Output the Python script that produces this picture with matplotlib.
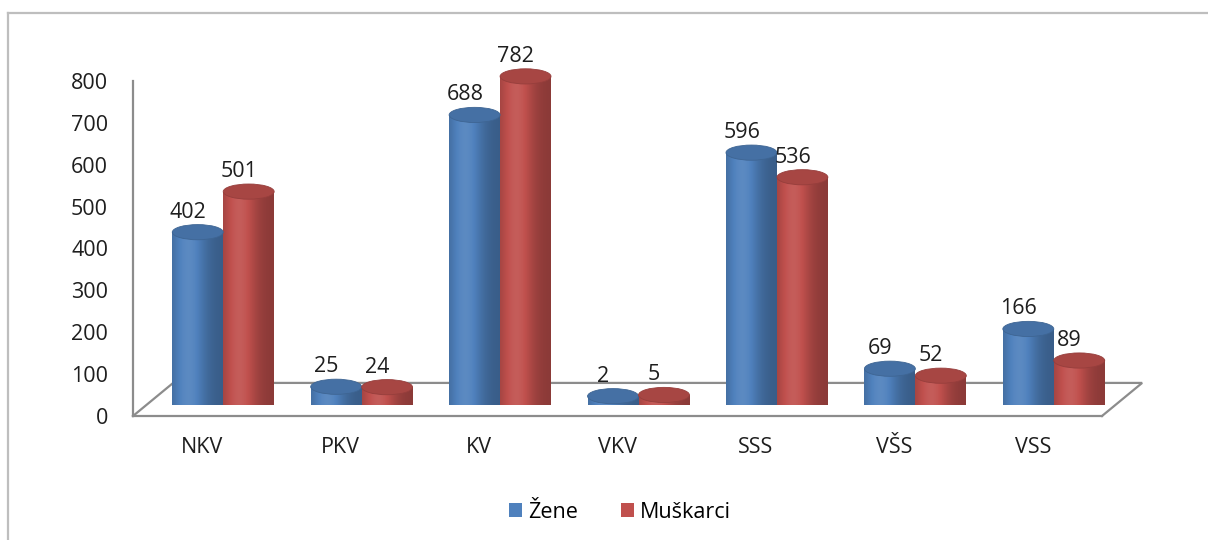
"""Zene / Muskarci po strucnoj spremi - 3D cylinder style bar chart"""

import numpy as np
import matplotlib
matplotlib.use("Agg")
import matplotlib.pyplot as plt
from matplotlib.patches import Ellipse, PathPatch, Patch
from matplotlib.path import Path
from matplotlib.lines import Line2D
from matplotlib.colors import to_rgb

plt.rcParams["font.family"] = ["Open Sans", "DejaVu Sans"]

categories = ["NKV", "PKV", "KV", "VKV", "SSS", "VŠS", "VSS"]
zene = [402, 25, 688, 2, 596, 69, 166]
muskarci = [501, 24, 782, 5, 536, 52, 89]
series_names = ["Žene", "Muškarci"]
series_colors = ["#4F81BD", "#C0504D"]
y_ticks = [0, 100, 200, 300, 400, 500, 600, 700, 800]

W, H = 1208, 540
fig = plt.figure(figsize=(W / 100, H / 100), dpi=100)


def px_box(left, top, right, bottom):
    return [left / W, 1 - bottom / H, (right - left) / W, (bottom - top) / H]


# outer frame (top and left edge only, as in the screenshot)
frame_col = "#BEBEBE"
fig.add_artist(Line2D([8 / W, 1], [1 - 13 / H] * 2, color=frame_col, lw=1.6,
                      transform=fig.transFigure))
fig.add_artist(Line2D([8 / W] * 2, [0, 1 - 13 / H], color=frame_col, lw=1.6,
                      transform=fig.transFigure))

txt_col = "#1E1E1E"
fs = 15.5

# front plane: value axis, category labels, floor
ax = fig.add_axes(px_box(133, 81, 1102, 416))
ax.set_xlim(-0.5, len(categories) - 0.5)
ax.set_ylim(0, 800)
ax.set_facecolor("none")
ax.set_yticks(y_ticks)
ax.set_xticks(range(len(categories)))
ax.set_xticklabels(categories)
ax.tick_params(axis="y", length=0, pad=18, labelsize=fs, colors=txt_col)
ax.tick_params(axis="x", length=0, pad=15, labelsize=fs, colors=txt_col)
for s in ["top", "right"]:
    ax.spines[s].set_visible(False)
axis_col = "#8C8C8C"
for s in ["left", "bottom"]:
    ax.spines[s].set_color(axis_col)
    ax.spines[s].set_linewidth(1.6)

# floor back edge and the two side edges
dx = 0.29   # depth shift in x (category units)
dy = 79     # depth shift in y (value units)
x0, x1 = ax.get_xlim()
ax.plot([x0, x0 + dx, x1 + dx, x1], [0, dy, dy, 0], color=axis_col, lw=1.6,
        clip_on=False, solid_joinstyle="miter")

# middle plane: cylinders
cax = fig.add_axes(px_box(154, 69, 1123, 397))
cax.set_xlim(-0.5, len(categories) - 0.5)
cax.set_ylim(0, 800)
cax.axis("off")
cax.set_facecolor("none")

bar_w = 0.368
ell_h = 37  # ellipse height in value units


def shade_row(base, n=64):
    t = np.linspace(0, 1, n)
    f = 0.72 + 0.36 * np.exp(-((t - 0.32) / 0.34) ** 2)
    c = np.array(to_rgb(base))
    rows = []
    for fi in f:
        if fi <= 1:
            rows.append(c * fi)
        else:
            rows.append(c + (1 - c) * (fi - 1) * 0.9)
    return np.clip(np.array(rows), 0, 1)[None, :, :]


def cylinder(xc, v, color):
    xl, xr = xc - bar_w / 2, xc + bar_w / 2
    th = np.linspace(np.pi, 2 * np.pi, 40)
    arc = np.column_stack([xc + bar_w / 2 * np.cos(th), ell_h / 2 * np.sin(th)])
    verts = [(xl, v)] + arc.tolist() + [(xr, v), (xl, v)]
    codes = [Path.MOVETO] + [Path.LINETO] * (len(verts) - 2) + [Path.CLOSEPOLY]
    body = PathPatch(Path(verts, codes), facecolor="none", edgecolor="none",
                     clip_on=False)
    cax.add_patch(body)
    im = cax.imshow(shade_row(color), extent=(xl, xr, -ell_h / 2, v),
                    aspect="auto", interpolation="bilinear", clip_on=False)
    im.set_clip_path(body)
    top_col = np.array(to_rgb(color)) * 0.87
    cax.add_patch(Ellipse((xc, v), bar_w, ell_h, facecolor=top_col,
                          edgecolor=np.array(to_rgb(color)) * 0.78, lw=0.6,
                          clip_on=False, zorder=3))


for i in range(len(categories)):
    for k, vals in enumerate([zene, muskarci]):
        xc = i + (k - 0.5) * bar_w
        v = vals[i]
        cylinder(xc, v, series_colors[k])
        cax.annotate(str(v), (xc, v + ell_h / 2), xytext=(-7, 5),
                     textcoords="offset points", ha="center", va="baseline",
                     fontsize=fs, color=txt_col, zorder=5,
                     annotation_clip=False)

cax.set_xlim(-0.5, len(categories) - 0.5)
cax.set_ylim(0, 800)

handles = [Patch(facecolor=c, edgecolor="none") for c in series_colors]
fig.legend(handles, series_names, loc="center", ncol=2,
           bbox_to_anchor=(620 / W, 1 - 512 / H), frameon=False,
           fontsize=fs, handlelength=0.6, handleheight=0.6,
           handletextpad=0.3, columnspacing=2.0)

fig.savefig("out.png", dpi=100)
